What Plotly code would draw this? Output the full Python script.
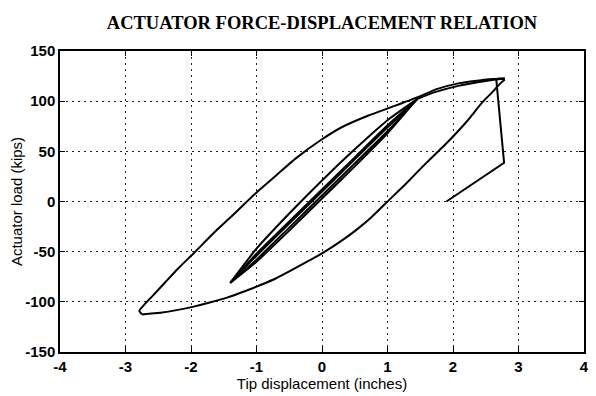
import plotly.graph_objects as go

# ---- data ----
x_ticks = [-4, -3, -2, -1, 0, 1, 2, 3, 4]
x_tick_labels = ["-4", "-3", "-2", "-1", "0", "1", "2", "3", "4"]
y_ticks = [-150, -100, -50, 0, 50, 100, 150]
y_tick_labels = ["-150", "-100", "-50", "0", "50", "100", "150"]

# small cycles (about +/-1.4 in)
small_disp = [-1.40, -1.0, -0.5, 0.0, 0.5, 1.0, 1.45]
wide_upper = [-81, -47, -12, 21, 52, 81, 102]
wide_lower = [-81, -60, -29, 3, 35, 68, 102]
narrow_upper = [-81, -52, -20, 12, 44, 76, 102]
narrow_lower = [-81, -58, -26, 6, 38, 70, 102]
narrow2_upper = [-81, -54, -22, 10, 42, 74, 102]

# loading to peak
load_disp = [1.45, 1.6, 1.75, 2.1, 2.4, 2.6, 2.79]
load_force = [102, 106, 109.5, 115.5, 119, 121, 122.5]

# unloading (upper branch of large cycle)
unload_disp = [2.79, 2.6, 2.4, 2.1, 1.75, 1.5, 1.3, 1.1, 0.7, 0.3, 0.0, -0.4, -0.7,
               -1.0, -1.4, -1.6, -1.95, -2.2, -2.4, -2.6, -2.73, -2.79, -2.75]
unload_force = [122.5, 122, 120.7, 118, 112, 105, 100, 95, 85.5, 74, 62, 43, 26,
                9, -16, -28, -51, -67, -81, -95, -104, -109, -112.5]

# reloading (lower branch of large cycle)
reload_disp = [-2.75, -2.47, -2.2, -1.96, -1.7, -1.45, -1.2, -0.93, -0.7, -0.45, -0.2,
               0.02, 0.3, 0.53, 0.75, 1.0, 1.3, 1.6, 1.9, 2.2, 2.45, 2.6, 2.72, 2.79]
reload_force = [-112.5, -110.8, -108, -104.8, -100.5, -95.8, -90, -83, -76.5, -68, -59,
                -51, -39, -28, -16, 0, 19, 39, 58, 79, 99, 109, 117.5, 121.5]

# final drop
final_disp = [2.79, 2.72, 2.66, 2.78, 1.9]
final_force = [121.5, 122.5, 122, 38.5, 0]

segments = [
    (small_disp, narrow_lower),
    (small_disp, narrow_upper),
    (small_disp, narrow2_upper),
    (small_disp, wide_lower),
    (small_disp, wide_upper),
    (load_disp, load_force),
    (unload_disp, unload_force),
    (reload_disp, reload_force),
]

fig = go.Figure()
for xs, ys in segments:
    fig.add_trace(go.Scatter(x=xs, y=ys, mode="lines",
                             line=dict(color="black", width=2, shape="spline", smoothing=0.5),
                             showlegend=False, hoverinfo="skip"))
fig.add_trace(go.Scatter(x=final_disp, y=final_force, mode="lines",
                         line=dict(color="black", width=2),
                         showlegend=False, hoverinfo="skip"))

axis_common = dict(
    showline=True, linecolor="black", linewidth=1.5, mirror="ticks",
    ticks="inside", ticklen=5, tickcolor="black", tickwidth=1,
    showgrid=True, gridcolor="#222222", gridwidth=1, griddash="2px,4px",
    zeroline=False,
    tickfont=dict(family="Liberation Sans, Arial, sans-serif", size=15, color="black", weight="bold"),
    automargin=False,
)

# page body has an 8px margin, so the figure is 588x388 and offset by 8px
fig.update_layout(
    width=588, height=388,
    margin=dict(l=52, r=12, t=43, b=44),
    paper_bgcolor="white", plot_bgcolor="white",
    title=dict(text="ACTUATOR FORCE-DISPLACEMENT RELATION",
               font=dict(family="Liberation Serif, Times New Roman, serif", size=18.5,
                         color="black", weight="bold"),
               x=0.5, xref="paper", xanchor="center",
               y=1 - 15 / 388, yref="container", yanchor="middle"),
    xaxis=dict(range=[-4, 4], tickvals=x_ticks, ticktext=x_tick_labels,
               title=dict(text="Tip displacement (inches)", standoff=3,
                          font=dict(family="Liberation Sans, Arial, sans-serif", size=15, color="black")),
               **axis_common),
    yaxis=dict(range=[-150, 150], tickvals=y_ticks, ticktext=y_tick_labels,
               title=dict(text="Actuator load (kips)", standoff=2,
                          font=dict(family="Liberation Sans, Arial, sans-serif", size=15, color="black")),
               **axis_common),
)

fig.write_html("out.html")
